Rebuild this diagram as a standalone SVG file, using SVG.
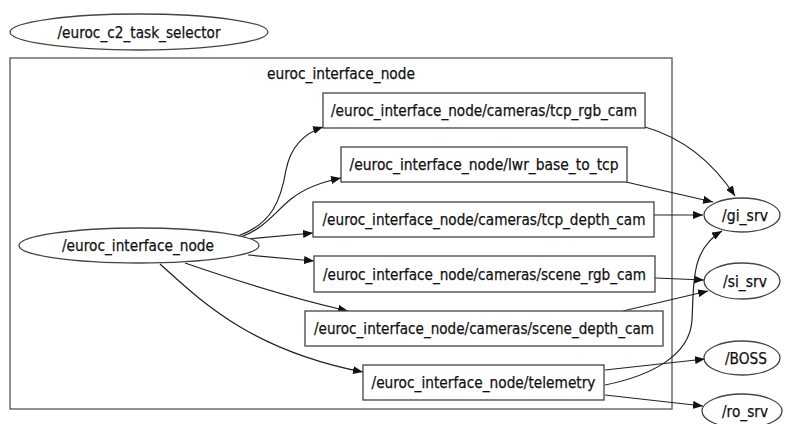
<svg xmlns="http://www.w3.org/2000/svg" width="787" height="424" viewBox="0 0 787 424">
<style>
.n{fill:#fff;stroke:#444;stroke-width:1.3}
.c{fill:none;stroke:#555;stroke-width:1.3}
.e{fill:none;stroke:#222;stroke-width:1.2}
text{font-family:"DejaVu Sans","Liberation Sans",sans-serif;font-size:15px;fill:#111;text-anchor:middle;stroke:#111;stroke-width:0.25}
</style>
<defs>
<marker id="a" markerWidth="11" markerHeight="8" refX="10" refY="4" orient="auto" markerUnits="userSpaceOnUse">
<path d="M0,0 L10,4 L0,8 Z" fill="#111"/>
</marker>
</defs>
<rect width="787" height="424" fill="#fff"/>
<g id="cluster_euroc_interface_node">
<rect class="c" x="10" y="58" width="662" height="351"/>
<text x="341" y="79" textLength="148" lengthAdjust="spacingAndGlyphs">euroc_interface_node</text>
</g>
<g id="connectors">
<path class="e" marker-end="url(#a)" d="M238,236 C272,224 281,200 286,170 C291,145 305,133 323,127"/>
<path class="e" marker-end="url(#a)" d="M241,237 C265,228 276,211 291,199 C305,188 321,182 341,178"/>
<path class="e" marker-end="url(#a)" d="M248,239 L313,233"/>
<path class="e" marker-end="url(#a)" d="M248,255 L314,261"/>
<path class="e" marker-end="url(#a)" d="M185,263 C240,282 300,300 348,311"/>
<path class="e" marker-end="url(#a)" d="M160,264 C200,300 250,350 363,372"/>
<path class="e" marker-end="url(#a)" d="M645,127 C690,140 718,170 735,196"/>
<path class="e" marker-end="url(#a)" d="M626,182 L713,202"/>
<path class="e" marker-end="url(#a)" d="M654,215 L703,215"/>
<path class="e" marker-end="url(#a)" d="M655,278 L704,280"/>
<path class="e" marker-end="url(#a)" d="M623,311 L708,291"/>
<path class="e" marker-end="url(#a)" d="M605,385 C650,376 690,356 692,320 C694,285 690,250 722,231"/>
<path class="e" marker-end="url(#a)" d="M605,370 L705,359"/>
<path class="e" marker-end="url(#a)" d="M605,395 L703,406"/>
</g>
<g id="euroc_c2_task_selector">
<ellipse class="n" cx="139" cy="32" rx="129" ry="18"/>
<text x="139" y="37.5" textLength="163" lengthAdjust="spacingAndGlyphs">/euroc_c2_task_selector</text>
</g>
<g id="euroc_interface_node">
<ellipse class="n" cx="139" cy="245.5" rx="120" ry="17.5"/>
<text x="138" y="251" textLength="152" lengthAdjust="spacingAndGlyphs">/euroc_interface_node</text>
</g>
<g id="tcp_rgb_cam">
<rect class="n" x="323" y="93" width="322" height="35"/>
<text x="484" y="116" textLength="306" lengthAdjust="spacingAndGlyphs">/euroc_interface_node/cameras/tcp_rgb_cam</text>
</g>
<g id="lwr_base_to_tcp">
<rect class="n" x="341" y="147" width="286" height="35"/>
<text x="484" y="170" textLength="269" lengthAdjust="spacingAndGlyphs">/euroc_interface_node/lwr_base_to_tcp</text>
</g>
<g id="tcp_depth_cam">
<rect class="n" x="313" y="202" width="341" height="35"/>
<text x="484" y="225" textLength="323" lengthAdjust="spacingAndGlyphs">/euroc_interface_node/cameras/tcp_depth_cam</text>
</g>
<g id="scene_rgb_cam">
<rect class="n" x="314" y="256" width="341" height="36"/>
<text x="484.5" y="279.5" textLength="323" lengthAdjust="spacingAndGlyphs">/euroc_interface_node/cameras/scene_rgb_cam</text>
</g>
<g id="scene_depth_cam">
<rect class="n" x="305" y="311" width="358" height="35"/>
<text x="484" y="334" textLength="340" lengthAdjust="spacingAndGlyphs">/euroc_interface_node/cameras/scene_depth_cam</text>
</g>
<g id="telemetry">
<rect class="n" x="363" y="365" width="241" height="35"/>
<text x="483.5" y="388" textLength="224" lengthAdjust="spacingAndGlyphs">/euroc_interface_node/telemetry</text>
</g>
<g id="gi_srv">
<ellipse class="n" cx="742" cy="215" rx="38" ry="17"/>
<text x="745" y="220.5" textLength="46" lengthAdjust="spacingAndGlyphs">/gi_srv</text>
</g>
<g id="si_srv">
<ellipse class="n" cx="742" cy="281" rx="38" ry="18"/>
<text x="745" y="286.5" textLength="44" lengthAdjust="spacingAndGlyphs">/si_srv</text>
</g>
<g id="BOSS">
<ellipse class="n" cx="742" cy="358" rx="38" ry="17"/>
<text x="746" y="363.5" textLength="42" lengthAdjust="spacingAndGlyphs">/BOSS</text>
</g>
<g id="ro_srv">
<ellipse class="n" cx="742" cy="411" rx="40" ry="17"/>
<text x="745" y="416.5" textLength="46" lengthAdjust="spacingAndGlyphs">/ro_srv</text>
</g>
</svg>
